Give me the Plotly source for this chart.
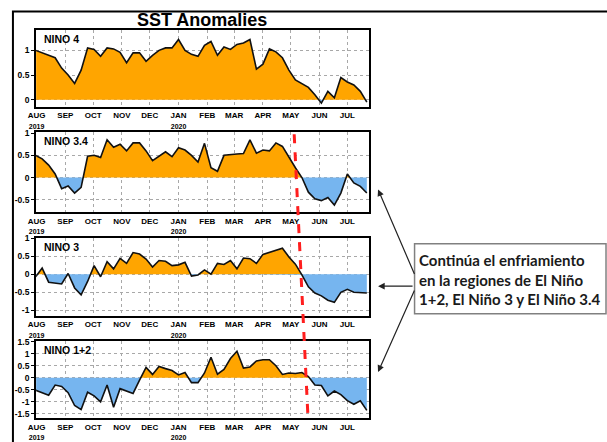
import numpy as np
import pandas as pd
import plotly.graph_objects as go

# ---------------- data ----------------
dates = pd.date_range("2019-07-31", periods=52, freq="7D")

nino4 = [1.00, 0.95, 0.90, 0.85, 0.64, 0.50, 0.33, 0.60, 1.05, 1.02,
         0.88, 1.05, 1.03, 0.96, 0.75, 0.95, 0.95, 0.78, 0.90, 1.00,
         1.05, 1.05, 1.22, 1.00, 0.92, 0.88, 1.10, 1.18, 0.90, 1.07,
         1.02, 1.12, 1.15, 1.22, 0.62, 0.72, 1.03, 0.97, 0.85, 0.60,
         0.40, 0.33, 0.25, 0.10, -0.07, 0.17, 0.04, 0.45, 0.36, 0.30,
         0.17, -0.05]

nino34 = [0.50, 0.42, 0.28, 0.08, -0.25, -0.19, -0.35, -0.22, 0.48, 0.50,
          0.45, 0.85, 0.68, 0.75, 0.60, 0.78, 0.78, 0.60, 0.38, 0.48,
          0.58, 0.47, 0.67, 0.62, 0.50, 0.35, 0.77, 0.22, 0.14, 0.50,
          0.52, 0.53, 0.54, 0.85, 0.55, 0.62, 0.60, 0.78, 0.70, 0.45,
          0.22, 0.00, -0.33, -0.48, -0.52, -0.45, -0.62, -0.35, 0.08, -0.12,
          -0.20, -0.35]

nino3 = [-0.07, 0.17, -0.22, -0.25, -0.27, 0.02, -0.38, -0.57, -0.20, 0.24,
         -0.07, 0.35, 0.15, 0.44, 0.30, 0.60, 0.56, 0.42, 0.20, 0.38,
         0.36, 0.24, 0.26, 0.33, -0.05, -0.02, 0.12, 0.00, 0.30, 0.27,
         0.38, 0.15, 0.45, 0.43, 0.30, 0.55, 0.60, 0.66, 0.72, 0.48,
         0.28, -0.02, -0.35, -0.52, -0.60, -0.72, -0.78, -0.50, -0.42, -0.50,
         -0.50, -0.52]

nino12 = [-0.52, -0.62, -0.72, -0.30, -0.36, -0.62, -1.15, -1.32, -0.60, -0.75,
          -1.00, -0.30, -1.22, -0.45, -0.55, -0.65, -0.10, 0.43, 0.14, 0.47,
          0.38, 0.30, 0.12, 0.22, -0.20, -0.20, 0.20, 0.85, 0.15, 0.35,
          0.80, 1.10, 0.40, 0.45, 0.70, 0.75, 0.75, 0.50, 0.14, 0.20,
          0.18, 0.22, 0.05, -0.30, -0.32, -0.75, -0.55, -0.70, -0.95, -1.10,
          -0.95, -1.35]

panel_names = ["NINO 4", "NINO 3.4", "NINO 3", "NINO 1+2"]
panel_series = [nino4, nino34, nino3, nino12]
panel_ranges = [[-0.14, 1.42], [-0.78, 1.02], [-1.15, 1.01], [-1.68, 1.51]]
panel_ticks = [[0, 0.5, 1], [-0.5, 0, 0.5, 1], [-1, -0.5, 0, 0.5, 1],
               [-1.5, -1, -0.5, 0, 0.5, 1, 1.5]]
panel_ticktext = [["0", "0.5", "1"], ["-0.5", "0", "0.5", "1"],
                  ["-1", "-0.5", "0", "0.5", "1"],
                  ["-1.5", "-1", "-0.5", "0", "0.5", "1", "1.5"]]

month_ticks = pd.date_range("2019-08-01", periods=12, freq="MS")
month_labels = ["AUG<br><span style='font-size:7px'>2019</span>", "SEP", "OCT", "NOV", "DEC",
                "JAN<br><span style='font-size:7px'>2020</span>",
                "FEB", "MAR", "APR", "MAY", "JUN", "JUL"]

title_text = "SST Anomalies"
note_text = "Continúa el enfriamiento<br>en la regiones de El Niño<br>1+2, El Niño 3 y El Niño 3.4"

# ---------------- layout geometry (pixels) ----------------
W, H = 607, 442
x_dom = [28.5 / W, 365.5 / W]
y_px = [(25, 103), (129, 210), (236, 315), (341, 419)]

POS = "#FFA500"
NEG = "#76B5EF"


def split_sign(d, v):
    t = d.values.astype("datetime64[s]").astype("int64").astype(float)
    v = np.asarray(v, dtype=float)
    xs, ys = [t[0]], [v[0]]
    for i in range(1, len(v)):
        if v[i - 1] * v[i] < 0:
            tc = t[i - 1] + (t[i] - t[i - 1]) * (v[i - 1] / (v[i - 1] - v[i]))
            xs.append(tc)
            ys.append(0.0)
        xs.append(t[i])
        ys.append(v[i])
    xs = pd.to_datetime(np.array(xs).astype("int64"), unit="s")
    ys = np.array(ys)
    return xs, np.maximum(ys, 0), np.minimum(ys, 0)


fig = go.Figure()
lab_font = dict(family="Liberation Sans, Arial", size=8, color="black", weight="bold")

for k, (name, vals) in enumerate(zip(panel_names, panel_series)):
    xa = "x" if k == 0 else f"x{k+1}"
    ya = "y" if k == 0 else f"y{k+1}"
    xs, pos, neg = split_sign(dates, vals)
    fig.add_trace(go.Scatter(x=xs, y=pos, mode="lines", line=dict(width=0),
                             fill="tozeroy", fillcolor=POS, xaxis=xa, yaxis=ya,
                             hoverinfo="skip", showlegend=False))
    fig.add_trace(go.Scatter(x=xs, y=neg, mode="lines", line=dict(width=0),
                             fill="tozeroy", fillcolor=NEG, xaxis=xa, yaxis=ya,
                             hoverinfo="skip", showlegend=False))
    fig.add_trace(go.Scatter(x=dates, y=vals, mode="lines",
                             line=dict(color="#111111", width=1.6),
                             xaxis=xa, yaxis=ya, showlegend=False))

    top, bot = y_px[k]
    dom = [1 - bot / H, 1 - top / H]
    xkey = "xaxis" if k == 0 else f"xaxis{k+1}"
    ykey = "yaxis" if k == 0 else f"yaxis{k+1}"
    fig.layout[xkey] = dict(
        domain=x_dom, anchor=ya, type="date",
        range=["2019-07-31 12:00", "2020-07-24"],
        tickvals=list(month_ticks), ticktext=month_labels,
        tickfont=lab_font, ticks="", ticklabelstandoff=0,
        showgrid=True, gridcolor="#A8A8A8", griddash="dot", gridwidth=1,
        showline=True, linecolor="black", linewidth=2, mirror=True,
        zeroline=False, tickangle=0, layer="above traces",
    )
    fig.layout[ykey] = dict(
        domain=dom, anchor=xa, range=panel_ranges[k],
        tickvals=panel_ticks[k], ticktext=panel_ticktext[k],
        tickfont=dict(family="Liberation Sans, Arial", size=8.5, color="black", weight="bold"),
        ticks="outside", ticklen=3, tickcolor="black", tickwidth=1,
        ticklabelstandoff=0,
        showgrid=True, gridcolor="#A8A8A8", griddash="dot", gridwidth=1,
        showline=True, linecolor="black", linewidth=2, mirror=True,
        zeroline=False, layer="above traces",
    )
    fig.add_annotation(x=34 / W, y=1 - (top + 1) / H, xref="paper", yref="paper",
                       xanchor="left", yanchor="top", showarrow=False,
                       text=name,
                       font=dict(family="Liberation Sans, Arial", size=10.5,
                                 color="black", weight="bold"))

# title
fig.add_annotation(x=197 / W, y=1 - 15 / H, xref="paper", yref="paper",
                   xanchor="center", yanchor="middle", showarrow=False,
                   text=title_text,
                   font=dict(family="Liberation Sans, Arial", size=18,
                             color="black", weight="bold"))

shapes = []
# outer frame
shapes.append(dict(type="rect", xref="paper", yref="paper",
                   x0=5 / W, x1=1.05, y0=-0.05, y1=1 - 6.5 / H,
                   line=dict(color="black", width=2), fillcolor="rgba(0,0,0,0)"))
# red dashed line
shapes.append(dict(type="line", xref="paper", yref="paper",
                   x0=290 / W, y0=1 - 131 / H, x1=304 / W, y1=1 - 418 / H,
                   line=dict(color="#FF1E1E", width=3, dash="dash"), layer="above"))
# note box
shapes.append(dict(type="rect", xref="paper", yref="paper",
                   x0=412 / W, x1=606 / W, y0=1 - 313 / H, y1=1 - 242 / H,
                   line=dict(color="#808080", width=1.5), fillcolor="white"))
fig.update_layout(shapes=shapes)

fig.add_annotation(x=414 / W, y=1 - 278 / H, xref="paper", yref="paper",
                   xanchor="left", yanchor="middle", align="left", showarrow=False,
                   text=note_text,
                   font=dict(family="Lato, Carlito, Calibri, sans-serif", size=15,
                             color="#1a1a1a", weight="bold"))

# arrows (tip positions in paper, tail offsets in px)
for tip, off in [((375, 187), (37, 86)), ((375, 285), (36, 0)), ((375, 372), (37, -83))]:
    fig.add_annotation(x=tip[0] / W, y=1 - tip[1] / H, xref="paper", yref="paper",
                       ax=off[0], ay=off[1], text="", showarrow=True,
                       arrowhead=2, arrowsize=1.1, arrowwidth=1.2,
                       arrowcolor="#222222")

fig.update_layout(width=W, height=H, margin=dict(l=0, r=0, t=0, b=0),
                  paper_bgcolor="white", plot_bgcolor="white", showlegend=False)

fig.write_html("out.html", config={"displayModeBar": False},
               post_script="document.body.style.margin='0';document.body.style.padding='0';document.body.style.overflow='hidden';")
